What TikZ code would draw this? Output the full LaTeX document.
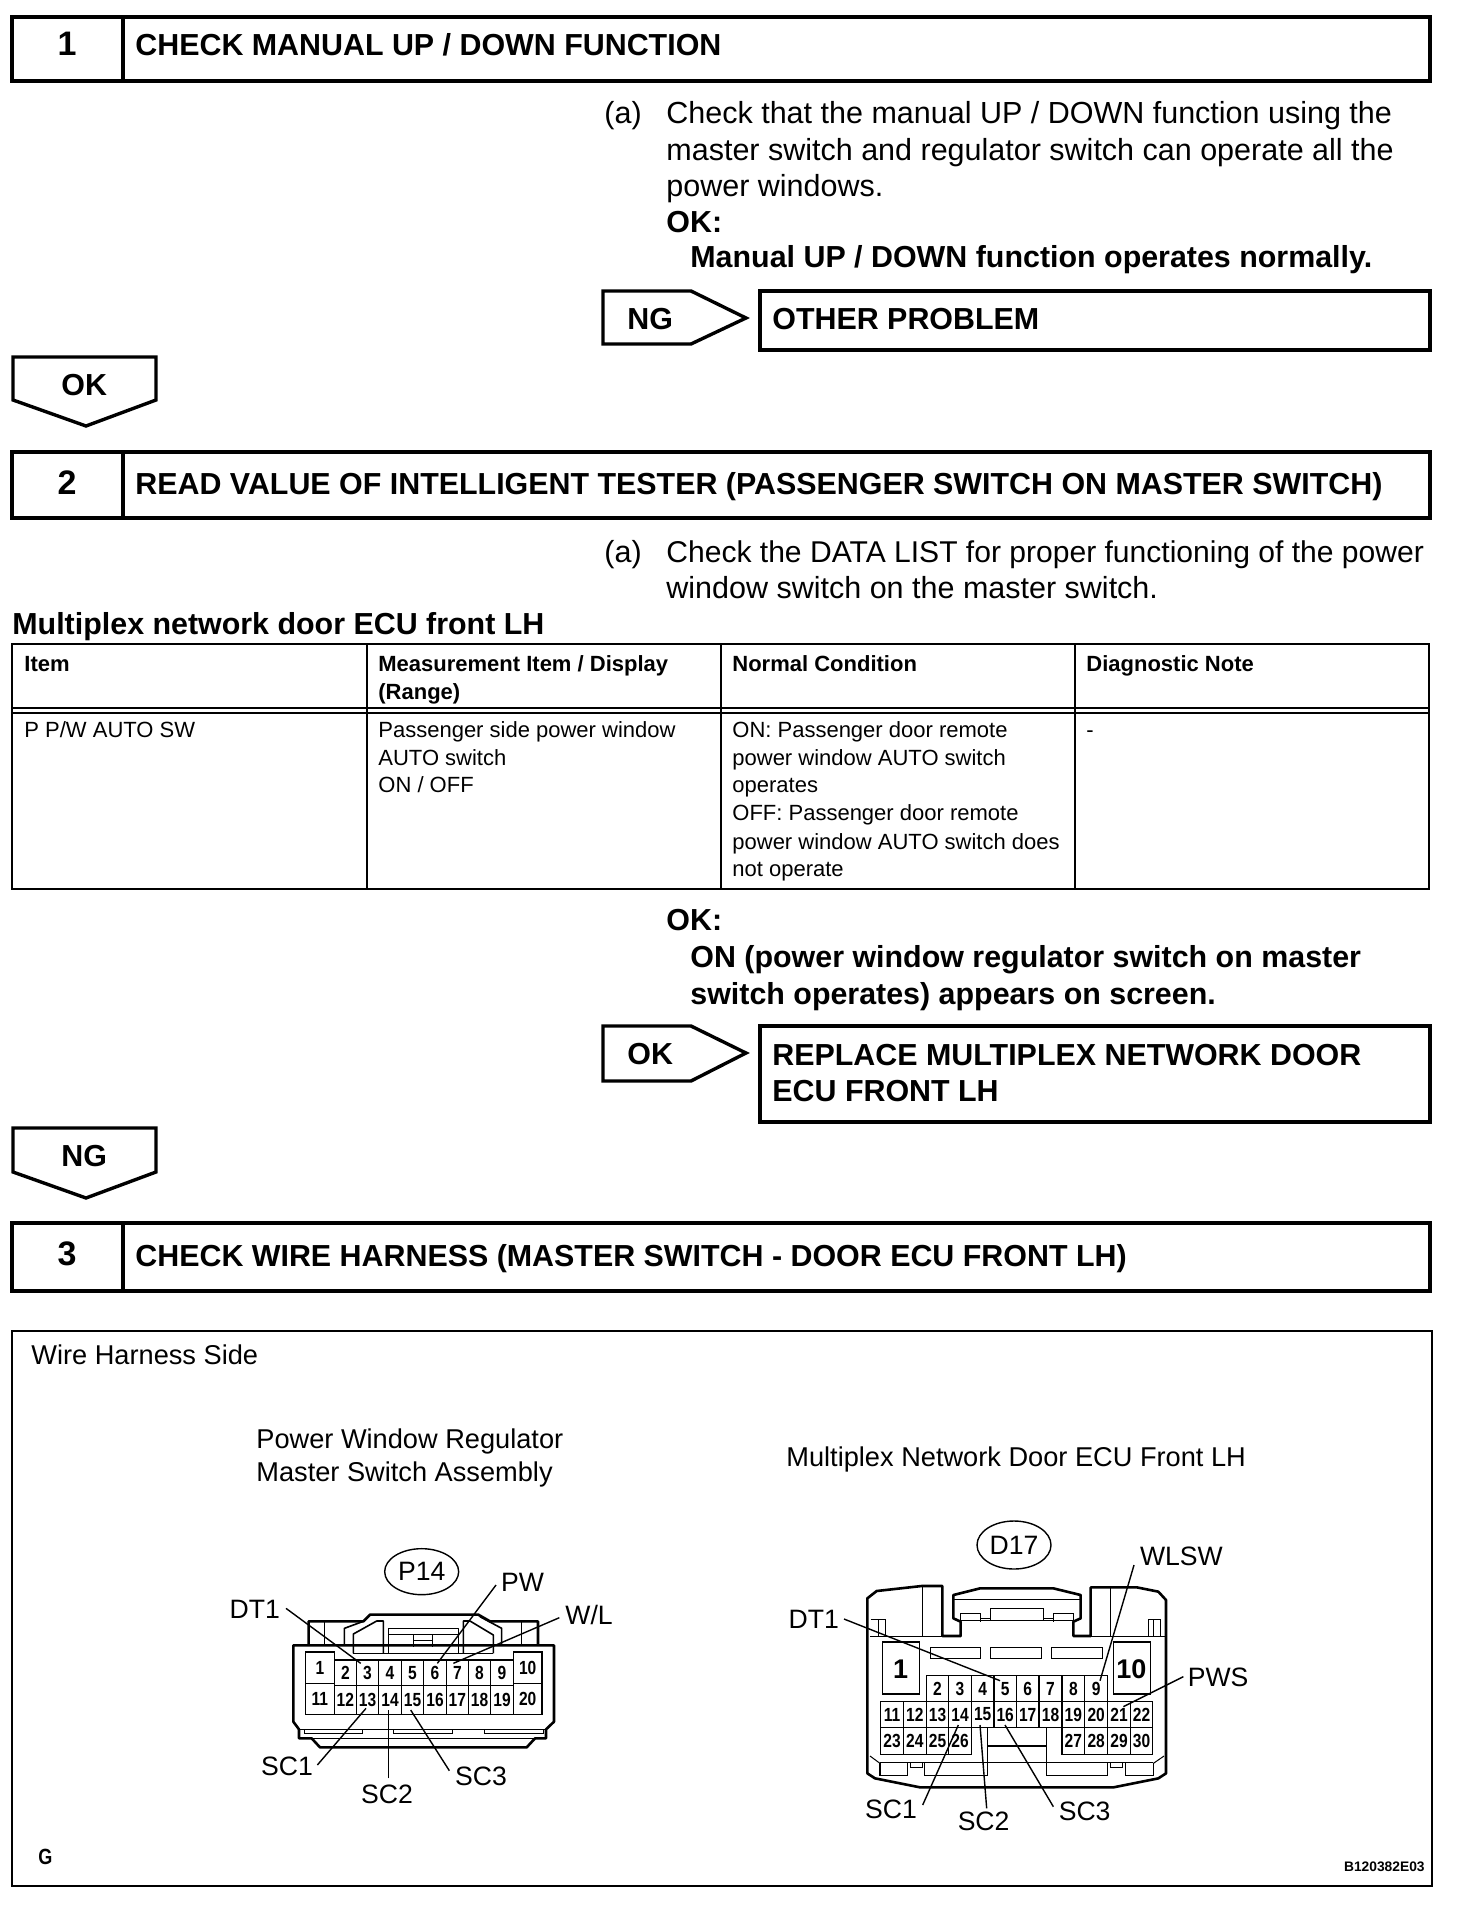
\documentclass[tikz,border=0pt]{standalone}
\usepackage{fontspec}
\setmainfont{Liberation Sans}
\newfontfamily\pinfont[FakeStretch=0.82,BoldFeatures={FakeStretch=0.82}]{Liberation Sans}
\usetikzlibrary{shapes.geometric}
\tikzset{
  hvy/.style={line width=1.7pt,line join=miter},
  thn/.style={line width=0.7pt},
  conthick/.style={line width=1.3pt,line join=round},
  conmid/.style={line width=0.8pt,line join=round},
  conthin/.style={line width=0.5pt},
  leader/.style={line width=0.7pt},
  bodytxt/.style={anchor=base west,inner sep=0pt,font=\fontsize{15.25}{17}\selectfont},
  boldtxt/.style={anchor=base west,inner sep=0pt,font=\fontsize{15.2}{17}\bfseries\selectfont},
  numtxt/.style={anchor=base,inner sep=0pt,font=\fontsize{17}{20}\bfseries\selectfont},
  tabtxt/.style={anchor=base west,inner sep=0pt,font=\fontsize{11}{13}\selectfont},
  tabhead/.style={anchor=base west,inner sep=0pt,font=\fontsize{11}{13}\bfseries\selectfont},
  difftxt/.style={anchor=base west,inner sep=0pt,font=\fontsize{13.6}{15}\selectfont},
  conlbl/.style={anchor=base west,inner sep=0pt,font=\fontsize{13.3}{15}\selectfont},
  pinlbl/.style={inner sep=0pt,font=\pinfont\fontsize{9.5}{10}\bfseries\selectfont},
  bigpin/.style={inner sep=0pt,font=\fontsize{13.5}{15}\bfseries\selectfont},
}
\begin{document}
\begin{tikzpicture}[x=0.5pt,y=-0.5pt]
\useasboundingbox (0,0) rectangle (1472,1920);
\fill[white] (0,0) rectangle (1472,1920);
% step headers
\draw[hvy] (12,17) rectangle (1430,81); \draw[hvy] (123,17) -- (123,81);
\node[numtxt] (n1) at (67,56) {1};
\node[boldtxt] (h1) at (135,56) {CHECK MANUAL UP / DOWN FUNCTION};
\node[bodytxt] (a1) at (604,124) {(a)};
\node[bodytxt] (t1a) at (666,124) {Check that the manual UP / DOWN function using the};
\node[bodytxt] (t1b) at (666,161) {master switch and regulator switch can operate all the};
\node[bodytxt] (t1c) at (666,197) {power windows.};
\node[boldtxt] (t1d) at (666,233) {OK:};
\node[boldtxt] (t1e) at (690,268) {Manual UP / DOWN function operates normally.};
\draw[hvy] (603,291) -- (691,291) -- (746,318) -- (691,344) -- (603,344) -- cycle;
\node[boldtxt] (ng1) at (627,329) {NG};
\draw[hvy] (760,291) rectangle (1430,350);
\node[boldtxt] (op) at (772,329) {OTHER PROBLEM};
\draw[hvy] (13,357) -- (156,357) -- (156,400) -- (86,426) -- (13,400) -- cycle;
\node[boldtxt] (ok1) at (61,395) {OK};
\draw[hvy] (12,452) rectangle (1430,518); \draw[hvy] (123,452) -- (123,518);
\node[numtxt] (n2) at (67,494) {2};
\node[boldtxt] (h2) at (135,494) {READ VALUE OF INTELLIGENT TESTER (PASSENGER SWITCH ON MASTER SWITCH)};
\node[bodytxt] (a2) at (604,562) {(a)};
\node[bodytxt,font=\fontsize{15.03}{17}\selectfont] (t2a) at (666,562) {Check the DATA LIST for proper functioning of the power};
\node[bodytxt] (t2b) at (666,598) {window switch on the master switch.};
\node[boldtxt] (mt) at (12,634) {Multiplex network door ECU front LH};
% table
\draw[thn] (12,644) rectangle (1429,889);
\draw[thn] (12,708) -- (1429,708);
\draw[thn] (12,713) -- (1429,713);
\draw[thn] (367,644) -- (367,889);
\draw[thn] (721,644) -- (721,889);
\draw[thn] (1075,644) -- (1075,889);
\node[tabhead] (c1) at (24,671) {Item};
\node[tabhead] (c2) at (378,671) {Measurement Item / Display};
\node[tabhead] (c2b) at (378,699) {(Range)};
\node[tabhead] (c3) at (732,671) {Normal Condition};
\node[tabhead] (c4) at (1086,671) {Diagnostic Note};
\node[tabtxt] (r1) at (24,737) {P P/W AUTO SW};
\node[tabtxt] (r2a) at (378,737) {Passenger side power window};
\node[tabtxt] (r2b) at (378,765) {AUTO switch};
\node[tabtxt] (r2c) at (378,792) {ON / OFF};
\node[tabtxt] (r3a) at (732,737) {ON: Passenger door remote};
\node[tabtxt] (r3b) at (732,765) {power window AUTO switch};
\node[tabtxt] (r3c) at (732,792) {operates};
\node[tabtxt] (r3d) at (732,820) {OFF: Passenger door remote};
\node[tabtxt] (r3e) at (732,849) {power window AUTO switch does};
\node[tabtxt] (r3f) at (732,876) {not operate};
\node[tabtxt] (r4) at (1086,737) {-};
\node[boldtxt] (t3a) at (666,930) {OK:};
\node[boldtxt] (t3b) at (690,967) {ON (power window regulator switch on master};
\node[boldtxt] (t3c) at (690,1004) {switch operates) appears on screen.};
\draw[hvy] (603,1026) -- (691,1026) -- (746,1053) -- (691,1081) -- (603,1081) -- cycle;
\node[boldtxt] (ok2) at (627,1064) {OK};
\draw[hvy] (760,1026) rectangle (1430,1122);
\node[boldtxt] (rp1) at (772,1065) {REPLACE MULTIPLEX NETWORK DOOR};
\node[boldtxt] (rp2) at (772,1101) {ECU FRONT LH};
\draw[hvy] (13,1128) -- (156,1128) -- (156,1172) -- (86,1198) -- (13,1172) -- cycle;
\node[boldtxt] (ng2) at (61,1166) {NG};
\draw[hvy] (12,1223) rectangle (1430,1291); \draw[hvy] (123,1223) -- (123,1291);
\node[numtxt] (n3) at (67,1265) {3};
\node[boldtxt] (h3) at (135,1266) {CHECK WIRE HARNESS (MASTER SWITCH - DOOR ECU FRONT LH)};
% diagram frame
\draw[thn] (12,1331) rectangle (1432,1886);
\node[difftxt] (wh) at (31,1364) {Wire Harness Side};
\node[difftxt] (pw1) at (256,1448) {Power Window Regulator};
\node[difftxt] (pw2) at (256,1481) {Master Switch Assembly};
\node[difftxt] (mn) at (786,1466) {Multiplex Network Door ECU Front LH};
\node[anchor=base west,inner sep=0pt,font=\pinfont\fontsize{11}{12}\bfseries\selectfont] (g) at (38,1864) {G};
\node[anchor=base east,inner sep=0pt,font=\fontsize{6.9}{8}\bfseries\selectfont] (code) at (1425,1871) {B120382E03};
% P14 connector
\begin{scope}[shift={(200,1520)},x=0.16667pt,y=-0.16667pt]
\draw[conthick] (326,376) -- (326,304) -- (490,304) -- (510,284) -- (835,284) -- (870,304) -- (1014,304) -- (1014,376);
\draw[conthick,fill=white] (280,376) -- (1062,376) -- (1062,605) -- (1038,628) -- (1038,655) -- (1005,655) -- (980,682) -- (360,682) -- (335,655) -- (297,655) -- (297,628) -- (280,605) -- cycle;
\draw[conthin] (372,304) -- (372,376) (964,304) -- (964,376);
\draw[conmid] (433,376) -- (433,325) -- (490,304);
\draw[conmid] (460,400) -- (460,342) -- (530,303) -- (550,303) -- (550,400);
\draw[conmid] (565,400) -- (565,325) -- (775,325) -- (775,400);
\draw[conmid] (790,400) -- (790,303) -- (810,303) -- (880,345) -- (880,400);
\draw[conmid] (905,376) -- (905,325) -- (840,290);
\draw[conthin] (565,342) -- (775,342);
\draw[conthin] (640,345) -- (640,380) (697,345) -- (697,380) (640,362) -- (697,362);
\draw[conthin] (460,400) -- (880,400);
\foreach \n/\a/\b/\c/\d in {2/403/469/420/497,3/469/536/420/497,4/536/604/420/497,5/604/671/420/497,6/671/739/420/497,7/739/805/420/497,8/805/872/420/497,9/872/940/420/497,12/403/469/497/583,13/469/536/497/583,14/536/604/497/583,15/604/671/497/583,16/671/739/497/583,17/739/805/497/583,18/805/872/497/583,19/872/940/497/583,1/316/403/396/490,11/316/403/490/583,10/940/1026/396/490,20/940/1026/490/583}{
  \draw[conthin,line width=0.6pt,fill=white] (\a,\c) rectangle (\b,\d);
  \node[pinlbl] (pa\n) at ({(\a+\b)/2},{(\c+\d)/2}) {\n};
}
\draw[conthin] (313,630) -- (313,640) -- (487,640) -- (487,630);
\draw[conthin] (580,630) -- (580,640) -- (757,640) -- (757,630);
\draw[conthin] (853,630) -- (853,640) -- (1030,640) -- (1030,630);
\draw[conthin] (297,628) -- (1038,628);
\draw[conthin] (335,655) -- (1005,655);
\node[draw,ellipse,line width=0.7pt,minimum width=37pt,minimum height=23pt,inner sep=0pt,font=\fontsize{13.3}{15}\selectfont] (p14) at (665,155) {P14};
\node[conlbl] (aDT) at (88,295) {DT1};
\node[conlbl] (aPW) at (902,215) {PW};
\node[conlbl] (aWL) at (1095,313) {W/L};
\node[conlbl] (aS1) at (182,765) {SC1};
\node[conlbl] (aS2) at (482,850) {SC2};
\node[conlbl] (aS3) at (764,797) {SC3};
\coordinate (aDTs) at (258,265); \coordinate (aDTe) at (482,430);
\coordinate (aPWs) at (888,195); \coordinate (aPWe) at (712,430);
\coordinate (aWLs) at (1078,293); \coordinate (aWLe) at (760,430);
\coordinate (aS1s) at (352,735); \coordinate (aS1e) at (498,565);
\coordinate (aS2s) at (565,775); \coordinate (aS2e) at (565,570);
\coordinate (aS3s) at (748,752); \coordinate (aS3e) at (632,570);
\foreach \w in {aDT,aPW,aWL,aS1,aS2,aS3}{\draw[leader] (\w s) -- (\w e);}
\end{scope}
% D17 connector
\begin{scope}[shift={(770,1510)},x=0.16667pt,y=-0.16667pt]
\draw[conthick] (292,790) -- (292,265) -- (320,243) -- (455,228) -- (517,228) -- (517,378) -- (572,378) -- (572,335) -- (550,325) -- (550,255) -- (630,235) -- (850,235) -- (932,255) -- (932,325) -- (910,335) -- (910,378) -- (962,378) -- (962,232) -- (1100,232) -- (1165,245) -- (1188,270) -- (1188,790) -- (1165,805) -- (1030,832) -- (450,832) -- (315,805) -- cycle;
\draw[conthin] (457,232) -- (457,378) (1020,232) -- (1020,378);
\draw[conthin] (300,378) -- (517,378) (962,378) -- (1185,378);
\draw[conthin] (302,328) -- (345,328) -- (345,378) (325,328) -- (325,378);
\draw[conthin] (1135,378) -- (1135,328) -- (1172,328) -- (1172,378) (1150,328) -- (1150,378);
\draw[conthin] (550,268) -- (932,268);
\draw[conthin] (572,335) -- (572,310) -- (632,310) -- (632,335);
\draw[conthin] (850,335) -- (850,310) -- (910,310) -- (910,335);
\draw[conthin] (660,295) rectangle (820,330);
\draw[conthin] (632,325) -- (660,325) (820,325) -- (850,325) (572,332) -- (910,332);
\draw[conthin,line width=0.6pt] (482,413) rectangle (632,445);
\draw[conthin,line width=0.6pt] (662,413) rectangle (814,445);
\draw[conthin,line width=0.6pt] (845,413) rectangle (997,445);
\foreach \n/\a/\b/\c/\d in {2/469/536/497/575,3/536/604/497/575,4/604/672/497/575,5/672/739/497/575,6/739/807/497/575,7/807/876/497/575,8/876/944/497/575,9/944/1013/497/575,11/332/400/575/652,12/400/469/575/652,13/469/536/575/652,14/536/604/575/652,15/604/672/575/652,16/672/739/575/652,17/739/807/575/652,18/807/876/575/652,19/876/944/575/652,20/944/1013/575/652,21/1013/1081/575/652,22/1081/1148/575/652,23/332/400/652/733,24/400/469/652/733,25/469/536/652/733,26/536/604/652/733,27/876/944/652/733,28/944/1013/652/733,29/1013/1081/652/733,30/1081/1148/652/733}{
  \draw[conthin,line width=0.6pt] (\a,\c) rectangle (\b,\d);
  \node[pinlbl] (pb\n) at ({(\a+\b)/2},{(\c+\d)/2}) {\n};
}
\draw[conthin,line width=0.6pt] (337,396) rectangle (448,552);
\node[bigpin] (pb1) at (392,478) {1};
\draw[conthin,line width=0.6pt] (1030,396) rectangle (1142,552);
\node[bigpin] (pb10) at (1084,478) {10};
\draw[conthin,line width=0.7pt] (652,652) -- (652,797) (830,652) -- (830,797);
\draw[conthin,line width=0.8pt] (652,708) -- (830,708);
\draw[conthin] (330,757) -- (1150,757);
\draw[conthin] (300,738) -- (330,760);
\draw[conthin,line width=0.7pt] (330,760) -- (330,797) -- (412,797) -- (412,757);
\draw[conthin,line width=0.7pt] (463,757) -- (463,797) -- (652,797);
\draw[conthin,line width=0.7pt] (830,797) -- (1013,797) -- (1013,757);
\draw[conthin,line width=0.7pt] (1067,757) -- (1067,797) -- (1150,797) -- (1150,760);
\draw[conthin] (1150,760) -- (1182,738);
\draw[conthin] (422,757) rectangle (457,773);
\draw[conthin] (1022,757) rectangle (1057,773);
\node[draw,ellipse,line width=0.7pt,minimum width=37pt,minimum height=24pt,inner sep=0pt,font=\fontsize{13.3}{15}\selectfont] (d17) at (732,105) {D17};
\node[conlbl] (bWL) at (1109,165) {WLSW};
\node[conlbl] (bDT) at (55,355) {DT1};
\node[conlbl] (bPW) at (1252,530) {PWS};
\node[conlbl] (bS1) at (284,925) {SC1};
\node[conlbl] (bS2) at (562,962) {SC2};
\node[conlbl] (bS3) at (865,930) {SC3};
\coordinate (bDTs) at (222,327); \coordinate (bDTe) at (690,512);
\coordinate (bWLs) at (1092,165); \coordinate (bWLe) at (990,512);
\coordinate (bPWs) at (1240,500); \coordinate (bPWe) at (1060,590);
\coordinate (bS1s) at (458,885); \coordinate (bS1e) at (565,645);
\coordinate (bS2s) at (650,895); \coordinate (bS2e) at (630,645);
\coordinate (bS3s) at (850,890); \coordinate (bS3e) at (705,645);
\foreach \w in {bDT,bWL,bPW,bS1,bS2,bS3}{\draw[leader] (\w s) -- (\w e);}
\end{scope}
\end{tikzpicture}
\end{document}
